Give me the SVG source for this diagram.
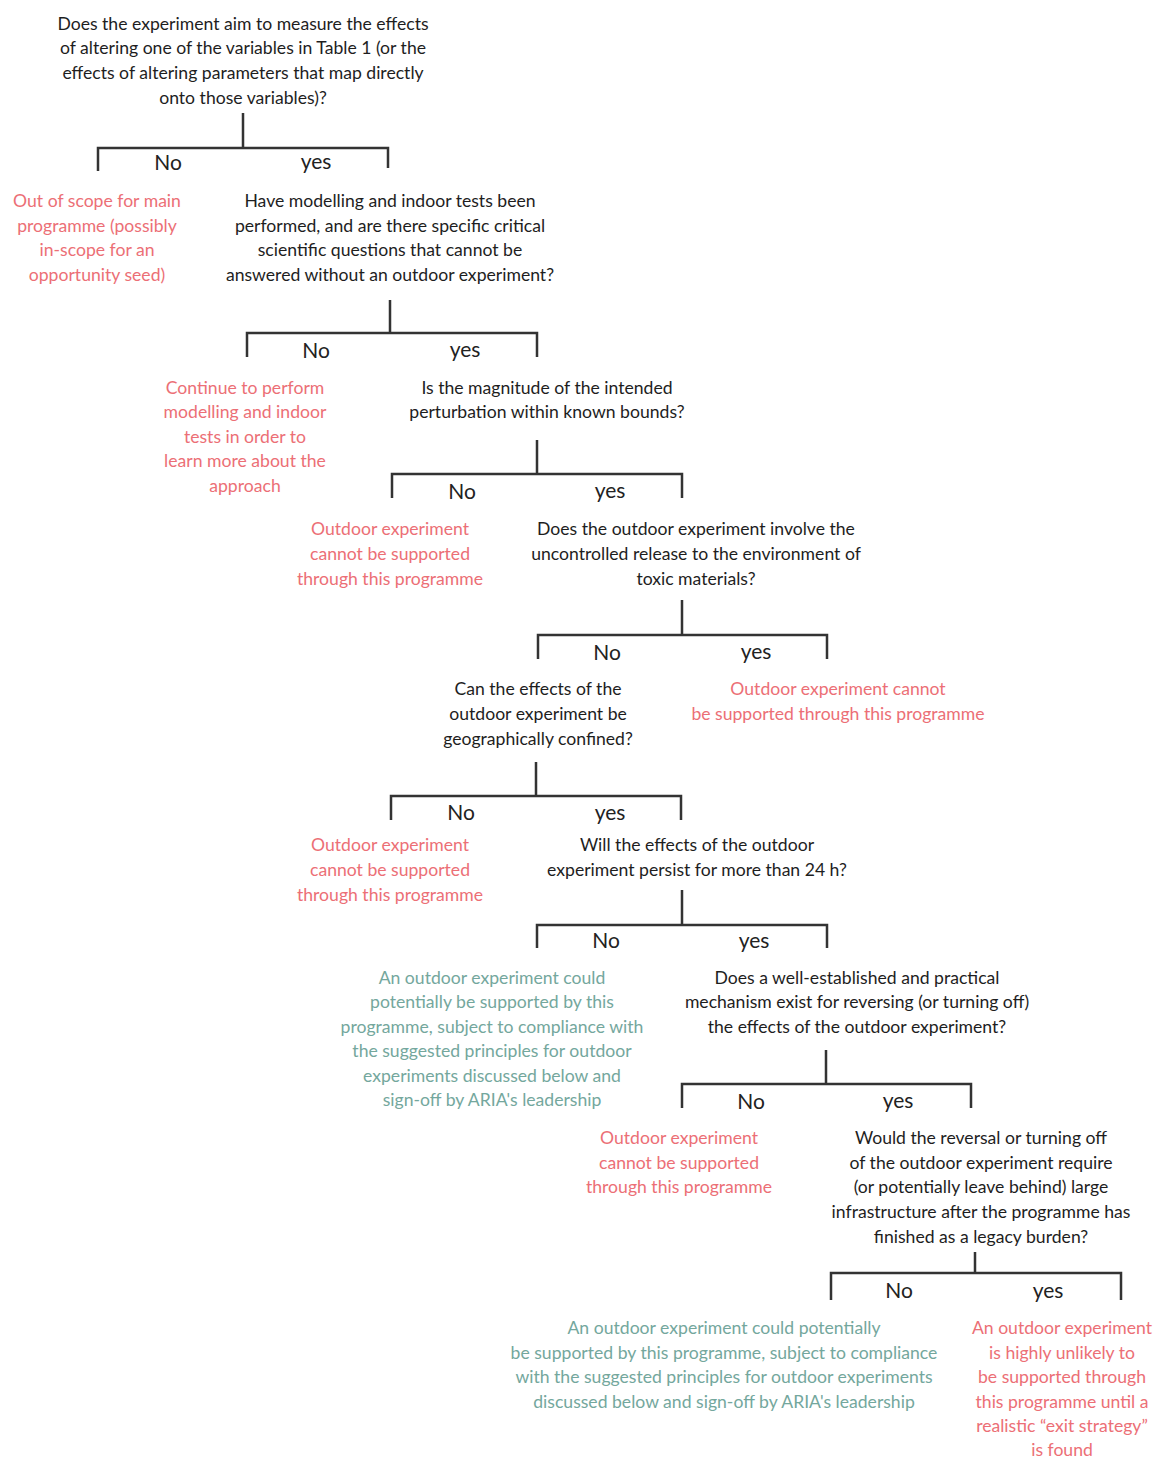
<svg xmlns="http://www.w3.org/2000/svg" width="1153" height="1459" viewBox="0 0 1153 1459">
<style>
text{font-family:Lato,"Liberation Sans",sans-serif;font-size:17.6px;text-anchor:middle}
.q{fill:#1e1e1e}
.r{fill:#ec6f76}
.g{fill:#74a79d}
.lbl{fill:#222;font-size:21px}
.c{fill:none;stroke:#333;stroke-width:2.5;stroke-linejoin:miter}
</style>
<rect width="1153" height="1459" fill="#fff"/>
<g id="connectors">
<path class="c" d="M243,113V148M98,171V148H388V168"/>
<path class="c" d="M390,300V333M247,357V333H537V357"/>
<path class="c" d="M537,440V474M392,498V474H682V498"/>
<path class="c" d="M682,600V635M538,659V635H827V659"/>
<path class="c" d="M536,762V796M391,820V796H681V820"/>
<path class="c" d="M682,890V925M537,948V925H827V948"/>
<path class="c" d="M826,1050V1084M682,1108V1084H971V1108"/>
<path class="c" d="M975,1252V1273M831,1300V1273H1121V1300"/>
<g class="lbl">
<text class="lbl" x="168" y="170">No</text><text class="lbl" x="316" y="169">yes</text>
<text class="lbl" x="316" y="358">No</text><text class="lbl" x="465" y="357">yes</text>
<text class="lbl" x="462" y="499">No</text><text class="lbl" x="610" y="498">yes</text>
<text class="lbl" x="607" y="660">No</text><text class="lbl" x="756" y="659">yes</text>
<text class="lbl" x="461" y="820">No</text><text class="lbl" x="610" y="820">yes</text>
<text class="lbl" x="606" y="948">No</text><text class="lbl" x="754" y="948">yes</text>
<text class="lbl" x="751" y="1109">No</text><text class="lbl" x="898" y="1108">yes</text>
<text class="lbl" x="899" y="1298">No</text><text class="lbl" x="1048" y="1298">yes</text>
</g>
</g>
<g id="q1">
<text class="q" x="243" y="30">Does the experiment aim to measure the effects</text>
<text class="q" x="243" y="54">of altering one of the variables in Table 1 (or the</text>
<text class="q" x="243" y="79">effects of altering parameters that map directly</text>
<text class="q" x="243" y="104">onto those variables)?</text>
</g>
<g id="out-of-scope">
<text class="r" x="97" y="207">Out of scope for main</text>
<text class="r" x="97" y="232">programme (possibly</text>
<text class="r" x="97" y="256">in-scope for an</text>
<text class="r" x="97" y="281">opportunity seed)</text>
</g>
<g id="q2">
<text class="q" x="390" y="207">Have modelling and indoor tests been</text>
<text class="q" x="390" y="232">performed, and are there specific critical</text>
<text class="q" x="390" y="256">scientific questions that cannot be</text>
<text class="q" x="390" y="281">answered without an outdoor experiment?</text>
</g>
<g id="continue">
<text class="r" x="245" y="394">Continue to perform</text>
<text class="r" x="245" y="418">modelling and indoor</text>
<text class="r" x="245" y="443">tests in order to</text>
<text class="r" x="245" y="467">learn more about the</text>
<text class="r" x="245" y="492">approach</text>
</g>
<g id="q3">
<text class="q" x="547" y="394">Is the magnitude of the intended</text>
<text class="q" x="547" y="418">perturbation within known bounds?</text>
</g>
<g id="not-supported-1">
<text class="r" x="390" y="535">Outdoor experiment</text>
<text class="r" x="390" y="560">cannot be supported</text>
<text class="r" x="390" y="585">through this programme</text>
</g>
<g id="q4">
<text class="q" x="696" y="535">Does the outdoor experiment involve the</text>
<text class="q" x="696" y="560">uncontrolled release to the environment of</text>
<text class="q" x="696" y="585">toxic materials?</text>
</g>
<g id="q5">
<text class="q" x="538" y="695">Can the effects of the</text>
<text class="q" x="538" y="720">outdoor experiment be</text>
<text class="q" x="538" y="745">geographically confined?</text>
</g>
<g id="not-supported-2">
<text class="r" x="838" y="695">Outdoor experiment cannot</text>
<text class="r" x="838" y="720">be supported through this programme</text>
</g>
<g id="not-supported-3">
<text class="r" x="390" y="851">Outdoor experiment</text>
<text class="r" x="390" y="876">cannot be supported</text>
<text class="r" x="390" y="901">through this programme</text>
</g>
<g id="q6">
<text class="q" x="697" y="851">Will the effects of the outdoor</text>
<text class="q" x="697" y="876">experiment persist for more than 24 h?</text>
</g>
<g id="could-support-1">
<text class="g" x="492" y="984">An outdoor experiment could</text>
<text class="g" x="492" y="1008">potentially be supported by this</text>
<text class="g" x="492" y="1033">programme, subject to compliance with</text>
<text class="g" x="492" y="1057">the suggested principles for outdoor</text>
<text class="g" x="492" y="1082">experiments discussed below and</text>
<text class="g" x="492" y="1106">sign-off by ARIA's leadership</text>
</g>
<g id="q7">
<text class="q" x="857" y="984">Does a well-established and practical</text>
<text class="q" x="857" y="1008">mechanism exist for reversing (or turning off)</text>
<text class="q" x="857" y="1033">the effects of the outdoor experiment?</text>
</g>
<g id="not-supported-4">
<text class="r" x="679" y="1144">Outdoor experiment</text>
<text class="r" x="679" y="1169">cannot be supported</text>
<text class="r" x="679" y="1193">through this programme</text>
</g>
<g id="q8">
<text class="q" x="981" y="1144">Would the reversal or turning off</text>
<text class="q" x="981" y="1169">of the outdoor experiment require</text>
<text class="q" x="981" y="1193">(or potentially leave behind) large</text>
<text class="q" x="981" y="1218">infrastructure after the programme has</text>
<text class="q" x="981" y="1243">finished as a legacy burden?</text>
</g>
<g id="could-support-2">
<text class="g" x="724" y="1334">An outdoor experiment could potentially</text>
<text class="g" x="724" y="1359">be supported by this programme, subject to compliance</text>
<text class="g" x="724" y="1383">with the suggested principles for outdoor experiments</text>
<text class="g" x="724" y="1408">discussed below and sign-off by ARIA's leadership</text>
</g>
<g id="unlikely">
<text class="r" x="1062" y="1334">An outdoor experiment</text>
<text class="r" x="1062" y="1359">is highly unlikely to</text>
<text class="r" x="1062" y="1383">be supported through</text>
<text class="r" x="1062" y="1408">this programme until a</text>
<text class="r" x="1062" y="1432">realistic “exit strategy”</text>
<text class="r" x="1062" y="1456">is found</text>
</g>
</svg>
